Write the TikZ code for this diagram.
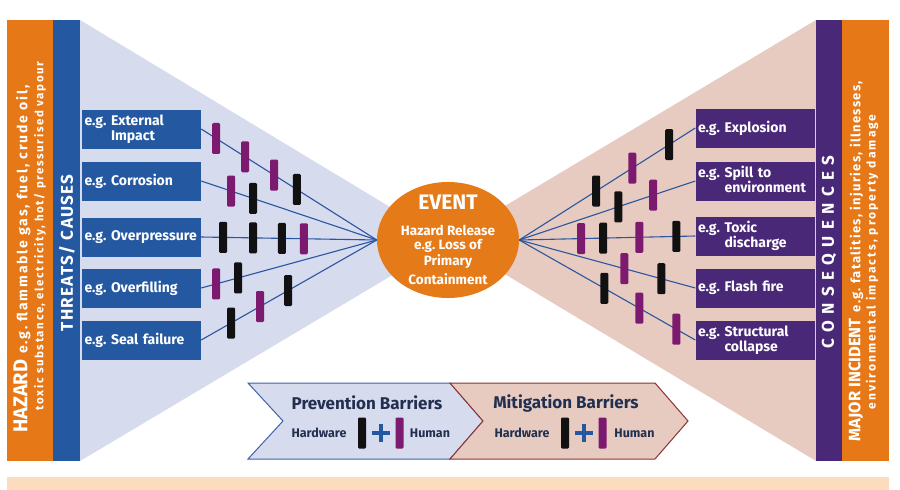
\documentclass[tikz,border=0pt]{standalone}
\usepackage{fontspec}
\setmainfont{Fira Sans}
\usetikzlibrary{shapes.geometric}
\definecolor{orangeC}{HTML}{E67817}
\definecolor{blueC}{HTML}{2459A2}
\definecolor{purpleC}{HTML}{4A2878}
\definecolor{funL}{HTML}{D6DBEE}
\definecolor{funR}{HTML}{E8CBC0}
\definecolor{lineC}{HTML}{2B55A0}
\definecolor{barP}{HTML}{7B1A6E}
\definecolor{barK}{HTML}{111111}
\definecolor{peach}{HTML}{FBDDBE}
\definecolor{evC}{HTML}{E57A18}
\definecolor{mitB}{HTML}{8B3333}
\definecolor{prevB}{HTML}{3D64AA}
\definecolor{navyT}{HTML}{22304F}
\newcommand{\fs}[1]{\fontsize{#1}{#1}\selectfont}
\newcommand{\ls}[1]{\addfontfeature{LetterSpace=#1}}
\newcommand{\egind}{\leavevmode\phantom{e.g.\ }}
\begin{document}
\frenchspacing
\begin{tikzpicture}[x=1pt,y=-1pt,
  threat/.style={rectangle, fill=blueC, text=white, minimum width=119pt, minimum height=39pt,
    text width=114pt, align=left, inner sep=2.5pt, font=\bfseries\fontsize{14}{15}\selectfont},
  conseq/.style={threat, fill=purpleC},
  conn/.style={draw=lineC, line width=1.1pt},
  hwbar/.style={rectangle, fill=barK, minimum width=8pt, minimum height=31pt, inner sep=0pt, rounded corners=1.2pt},
  hubar/.style={hwbar, fill=barP},
  sidetxt/.style={rotate=90, text=white, font=\bfseries, inner sep=0pt},
  evtxt/.style={text=white, font=\bfseries\fs{13.5}, inner sep=0pt},
  legtitle/.style={text=navyT, font=\bfseries\fs{17}, inner sep=0pt},
  legtxt/.style={text=navyT, font=\bfseries\fs{12.5}, inner sep=0pt},
  plusC/.style={draw=blueC, line width=3.5pt}
]
\useasboundingbox (0,0) rectangle (900,490);
\fill[white] (0,0) rectangle (900,490);
% funnels
\fill[funL] (80,20) -- (448,242) -- (80,461) -- cycle;
\fill[funR] (816,20) -- (448,240) -- (816,461) -- cycle;
% side bars
\fill[orangeC] (7,20) rectangle (53,461);
\fill[blueC] (53,20) rectangle (80,461);
\fill[purpleC] (816,20) rectangle (842,461);
\fill[orangeC] (842,20) rectangle (889,461);
\fill[peach] (7,477) rectangle (889,490);
% side texts
\node[sidetxt] (hz1) at (22,259) {{\fs{20}HAZARD}\hspace{6pt}{\fs{14}\ls{13}e.g. flammable gas, fuel, crude oil,}};
\node[sidetxt] (hz2) at (40,236) {\fs{11.5}\ls{14}toxic substance, electricity, hot/ pressurised vapour};
\node[sidetxt] (thr) at (67,253) {\fs{17}\ls{8}THREATS/ CAUSES};
\node[sidetxt] (cons) at (829,252) {\fs{17}\ls{38}CONSEQUENCES};
\node[sidetxt] (mi1) at (856,261) {{\fs{16.5}MAJOR INCIDENT}\hspace{6pt}{\fs{13}\ls{10}e.g. fatalities, injuries, illnesses,}};
\node[sidetxt] (mi2) at (872,262) {\fs{12}\ls{17}environmental impacts, property damage};
% event
\node[ellipse, fill=evC, minimum width=142pt, minimum height=116pt, inner sep=0pt] (ev) at (448,240) {};
\node[evtxt, font=\bfseries\fs{21}] (e1) at (448,202) {EVENT};
\node[evtxt] (e2) at (448,230) {Hazard Release};
\node[evtxt] (e3) at (448,246) {e.g. Loss of};
\node[evtxt] (e4) at (448,262) {Primary};
\node[evtxt] (e5) at (448,279) {Containment};
% threat boxes
\node[threat] (t1) at (141.5,129) {e.g. External\\\egind Impact};
\node[threat] (t2) at (141.5,181) {e.g. Corrosion};
\node[threat] (t3) at (141.5,237) {e.g. Overpressure};
\node[threat] (t4) at (141.5,288) {e.g. Overfilling};
\node[threat] (t5) at (141.5,340) {e.g. Seal failure};
% consequence boxes
\node[conseq] (c1) at (755,128) {e.g. Explosion};
\node[conseq] (c2) at (755,181) {e.g. Spill to\\\egind environment};
\node[conseq] (c3) at (755,236) {e.g. Toxic\\\egind discharge};
\node[conseq] (c4) at (755,288) {e.g. Flash fire};
\node[conseq] (c5) at (755,340) {e.g. Structural\\\egind collapse};
% connectors
\draw[conn] (t1.east) -- (ev.west);
\draw[conn] (t2.east) -- (ev.west);
\draw[conn] (t3.east) -- (ev.west);
\draw[conn] (t4.east) -- (ev.west);
\draw[conn] (t5.east) -- (ev.west);
\draw[conn] (ev.east) -- (c1.west);
\draw[conn] (ev.east) -- (c2.west);
\draw[conn] (ev.east) -- (c3.west);
\draw[conn] (ev.east) -- (c4.west);
\draw[conn] (ev.east) -- (c5.west);
% barriers
\path (t1.east) -- (ev.west) node[hubar,pos=.085]{} node[hubar,pos=.25]{} node[hubar,pos=.415]{} node[hwbar,pos=.545]{};
\path (t2.east) -- (ev.west) node[hubar,pos=.17]{} node[hwbar,pos=.295]{};
\path (t3.east) -- (ev.west) node[hwbar,pos=.125]{} node[hwbar,pos=.295]{} node[hwbar,pos=.46]{} node[hubar,pos=.585]{};
\path (t4.east) -- (ev.west) node[hubar,pos=.085]{} node[hwbar,pos=.21]{};
\path (t5.east) -- (ev.west) node[hwbar,pos=.17]{} node[hubar,pos=.335]{} node[hwbar,pos=.495]{};
\path (ev.east) -- (c1.west) node[hwbar,pos=.4375]{} node[hubar,pos=.642]{} node[hwbar,pos=.852]{};
\path (ev.east) -- (c2.west) node[hwbar,pos=.5625]{} node[hubar,pos=.761]{};
\path (ev.east) -- (c3.west) node[hubar,pos=.352]{} node[hwbar,pos=.477]{} node[hubar,pos=.682]{} node[hwbar,pos=.892]{};
\path (ev.east) -- (c4.west) node[hubar,pos=.597]{} node[hwbar,pos=.807]{};
\path (ev.east) -- (c5.west) node[hwbar,pos=.483]{} node[hubar,pos=.682]{} node[hubar,pos=.892]{};
% legend
\filldraw[fill=funL, draw=prevB, line width=1pt] (248,383) -- (450,383) -- (483,421) -- (450,459) -- (248,459) -- (283,421) -- cycle;
\filldraw[fill=funR, draw=mitB, line width=1pt] (450,383) -- (655,383) -- (688,421) -- (655,459) -- (450,459) -- (483,421) -- cycle;
\node[legtitle] (pt) at (367,403) {Prevention Barriers};
\node[legtxt] (ph) at (319,433) {Hardware};
\node[hwbar] (pk) at (362,433) {};
\draw[plusC] (372,433) -- (390,433) (381,424) -- (381,442);
\node[hubar] (pp) at (399.5,433) {};
\node[legtxt] (pu) at (430,433) {Human};
\node[legtitle] (mt) at (566,403) {Mitigation Barriers};
\node[legtxt] (mh) at (522,433) {Hardware};
\node[hwbar] (mk) at (565,433) {};
\draw[plusC] (575,433) -- (593,433) (584,424) -- (584,442);
\node[hubar] (mp) at (602.5,433) {};
\node[legtxt] (mu) at (634.5,433) {Human};
\end{tikzpicture}
\end{document}
